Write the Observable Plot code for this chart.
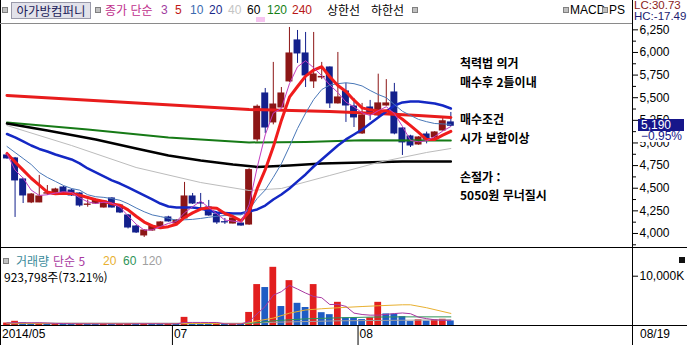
<!DOCTYPE html>
<html lang="ko">
<head>
<meta charset="utf-8">
<script src="https://cdn.jsdelivr.net/npm/d3@7"></script>
<script src="https://cdn.jsdelivr.net/npm/@observablehq/plot@0.6"></script>
<style>
html,body{margin:0;padding:0;background:#fff;}
#root{position:relative;width:687px;height:345px;overflow:hidden;background:#fff;font-family:"Liberation Sans",Arial,sans-serif;font-size:12px;color:#000;}
#root .a{position:absolute;white-space:nowrap;line-height:14px;}
#root .kr{font-family:"Noto Sans CJK KR","Liberation Sans",sans-serif;}
#root .sq{position:absolute;width:4px;height:4px;background:#c0c0c0;border:1px solid #808080;}
#root .ln{position:absolute;background:#000;}
#root svg{position:absolute;left:0;}
</style>
</head>
<body>
<div id="root"></div>
<script>
// ---------------- data ----------------
const stockName = "아가방컴퍼니";
const dates = ["2014-05-29","2014-05-30","2014-06-02","2014-06-03","2014-06-05","2014-06-09","2014-06-10","2014-06-11","2014-06-12","2014-06-13",
"2014-06-16","2014-06-17","2014-06-18","2014-06-19","2014-06-20","2014-06-23","2014-06-24","2014-06-25","2014-06-26","2014-06-27",
"2014-06-30","2014-07-01","2014-07-02","2014-07-03","2014-07-04","2014-07-07","2014-07-08","2014-07-09","2014-07-10","2014-07-11",
"2014-07-14","2014-07-15","2014-07-16","2014-07-17","2014-07-18","2014-07-21","2014-07-22","2014-07-23","2014-07-24","2014-07-25",
"2014-07-28","2014-07-29","2014-07-30","2014-07-31","2014-08-01","2014-08-04","2014-08-05","2014-08-06","2014-08-07","2014-08-08",
"2014-08-11","2014-08-12","2014-08-13","2014-08-14","2014-08-18","2014-08-19"];
const opens = [4862,4829,4597,4343,4343,4440,4431,4508,4475,4442,4316,4331,4287,4387,4309,4199,4077,3978,4033,4066,
4177,4110,4166,4409,4335,4287,4210,4125,4110,4110,4099,5039,5547,5227,5392,5680,6133,5989,5680,5724,
5834,5437,5569,5403,5105,5392,5304,5414,5558,5160,5072,4983,5094,5061,5138,5227];
const highs = [4880,4840,4610,4440,4641,4530,4500,4520,4490,4450,4370,4380,4365,4395,4320,4210,4090,4040,4090,4130,
4190,4150,4564,4442,4442,4365,4220,4166,4175,4115,4715,5420,5602,5890,5613,6276,6243,6221,6221,5890,
5840,6000,5658,5492,5437,5470,5760,5700,5658,5170,5085,5070,5120,5125,5270,5337];
const lows = [4820,4177,4331,4330,4340,4420,4425,4445,4410,4290,4290,4320,4280,4280,4220,4050,4000,3956,4025,4060,
4125,4105,4160,4320,4265,4190,4100,4100,4105,4080,4090,5010,5105,5200,5380,5670,5879,5613,5602,5700,
5381,5430,5227,5171,5095,5249,5290,5405,5090,4862,4950,4975,4990,5050,5130,5180];
const closes = [4829,4586,4420,4431,4409,4445,4486,4453,4420,4309,4320,4365,4354,4287,4232,4066,4011,4033,4077,4122,
4133,4144,4409,4331,4331,4199,4122,4122,4166,4088,4700,5400,5171,5425,5547,5989,5989,5746,5757,5730,
5437,5503,5414,5282,5304,5326,5437,5437,5105,5006,4972,5061,5039,5116,5240,5190];
const volumes = [500000,850000,550000,400000,450000,350000,400000,350000,300000,400000,350000,300000,350000,300000,350000,400000,350000,400000,350000,300000,
350000,300000,1650000,400000,350000,300000,350000,300000,350000,300000,2650000,8300000,7700000,11800000,3850000,9100000,4500000,3650000,8300000,2600000,
2200000,4700000,1550000,1500000,1200000,1550000,4700000,2350000,2300000,1800000,800000,1150000,880000,1150000,1261800,923798];

// price moving averages
const maPeriods = [3,5,10,20,40,60,120,240];
const ma3 = [4880,4700,4612,4479,4420,4428,4447,4461,4453,4394,4350,4331,4346,4335,4291,4195,4103,4037,4040,4077,
4111,4133,4229,4295,4357,4287,4217,4148,4137,4125,4318,4729,5090,5332,5381,5654,5842,5908,5831,5744,
5641,5557,5451,5400,5333,5304,5356,5400,5326,5183,5028,5013,5024,5072,5132,5182];
const ma5 = [4884,4790,4700,4610,4535,4458,4438,4445,4443,4423,4398,4373,4354,4327,4312,4261,4190,4126,4084,4062,
4075,4102,4177,4228,4270,4283,4278,4221,4188,4139,4240,4495,4705,4957,5249,5506,5624,5739,5806,5842,
5732,5635,5568,5473,5388,5366,5353,5357,5322,5262,5191,5116,5037,5039,5086,5129];
const ma10 = [4961,4895,4829,4762,4674,4619,4575,4530,4497,4479,4428,4406,4399,4385,4367,4329,4282,4240,4205,4187,
4168,4146,4151,4156,4166,4179,4190,4199,4208,4205,4261,4387,4480,4620,4770,4960,5160,5330,5480,5590,
5640,5655,5665,5655,5630,5580,5535,5500,5425,5350,5305,5260,5235,5215,5210,5205];
const ma20 = [5099,5061,5017,4972,4934,4906,4873,4845,4818,4774,4718,4674,4630,4586,4552,4508,4464,4420,4376,4331,
4298,4287,4287,4287,4276,4254,4232,4227,4221,4221,4243,4265,4309,4376,4431,4497,4575,4652,4740,4818,
4895,4972,5039,5094,5149,5215,5282,5348,5414,5448,5459,5459,5448,5436,5414,5381];
const ma40Day = [1,9,17,25,31,35,41,47,53,56];
const ma40 = [5193,4972,4729,4563,4475,4497,4641,4785,4895,4939];
const ma60Day = [1,6,12,17,21,25,29,32,36,40,45,50,56];
const ma60 = [5215,5138,5039,4939,4862,4807,4762,4735,4751,4774,4785,4796,4796];
const ma120Day = [1,11,21,31,38,45,56];
const ma120 = [5227,5149,5061,5006,5012,5030,5028];
const ma240Day = [1,16,31,41,47,52,56];
const ma240 = [5525,5448,5370,5348,5326,5304,5282];

// volume moving averages, thousands of shares
const volPeriods = [5,20,60,120];
const volMa5K = [500,550,550,550,550,500,420,390,370,360,350,340,340,330,330,340,350,370,370,360,
350,340,610,620,620,610,610,340,330,320,790,2380,3860,6150,6860,8150,7390,6580,5880,5630,
4250,4290,3870,2510,2230,2100,2100,2260,2420,2540,2390,1680,1390,1160,1050,1070];
const volMa20Day = [1,22,30,31,32,34,36,38,40,42,45,47,50,51,53,56];
const volMa20K = [420,400,400,520,920,1500,2500,3150,3400,3600,3850,4000,4200,4200,3600,2450];
const volMa60Day = [1,30,31,33,34,38,42,46,50,56];
const volMa60K = [380,380,420,750,950,1350,1550,1700,1750,1750];
const volMa120Day = [1,30,34,42,56];
const volMa120K = [500,450,650,950,1150];

const priceTicks = [4000,4250,4500,4750,5000,5250,5500,5750,6000,6250];
const priceMinorTicks = [3875,4125,4375,4625,4875,5125,5375,5625,5875,6125];
const volumeTicks = [0,10000000];
const headerIndicators = ["MACD","PS"];
const headerValues = [["LC",30.73],["HC",-17.49]];
const notes = ["척력법 의거","매수후 2틀이내","매수조건","시가 보합이상","손절가 :","5050원 무너질시"];

// ---------------- layout & style ----------------
const W = 687, AXIS_X = 632, STEP = 8.07, FIRST_X = 6.5;
const PRICE_TOP = 23, PRICE_H = 224, VOL_TOP = 247, VOL_H = 78, DATE_H = 20;
const UP = "#8c1616", DN = "#13208c", VUP = "#e21f1f", VDN = "#1f5cc4";
const maStyle = {3:["#c03cc0",1],5:["#f01c1c",3],10:["#4a78b8",1],20:["#1428c4",2.5],40:["#bcbcbc",1],60:["#000000",2.5],120:["#167a16",2],240:["#e81c1c",3]};
const headerColors = {3:"#a040a0",5:"#c01818",10:"#3a6ab0",20:"#1a2a8a",40:"#c4c4c4",60:"#000",120:"#148014",240:"#b81818"};
const volColors = {5:"#a838a0",20:"#e8b030",60:"#2e9458",120:"#a0a0a0"};

const root = document.getElementById("root");
function el(cls, style, text) {
  const e = document.createElement("div");
  e.className = cls;
  Object.assign(e.style, style);
  if (text != null) e.textContent = text;
  root.appendChild(e);
  return e;
}
const xDomain = [-FIRST_X / STEP, (AXIS_X - FIRST_X) / STEP];
const seq = arr => arr.map((v, i) => ({i, v}));
const sparse = (days, vals, k = 1) => days.map((d, j) => ({i: d - 1, v: vals[j] * k}));
const svgStyle = {fontFamily: "Liberation Sans, Arial, sans-serif", fontSize: "12px", color: "#000", background: "transparent", overflow: "visible"};

// ---------------- price panel ----------------
const candles = dates.map((d, i) => ({i, o: opens[i], h: highs[i], l: lows[i], c: closes[i], up: closes[i] >= opens[i]}));
const maSeries = {3: seq(ma3), 5: seq(ma5), 10: seq(ma10), 20: seq(ma20),
  40: sparse(ma40Day, ma40), 60: sparse(ma60Day, ma60), 120: sparse(ma120Day, ma120), 240: sparse(ma240Day, ma240)};
const drawOrder = [240,120,60,40,20,10,5,3];

const price = Plot.plot({
  width: W, height: PRICE_H,
  marginLeft: 0, marginRight: W - AXIS_X, marginTop: 0, marginBottom: 0,
  x: {type: "linear", domain: xDomain, axis: null, label: null},
  y: {type: "linear", domain: [3845, 6320], label: null},
  style: svgStyle,
  marks: [
    Plot.ruleX(candles, {x: "i", y1: "l", y2: "h", stroke: d => d.up ? UP : DN, strokeWidth: 1}),
    Plot.rect(candles, {x1: d => d.i - 0.43, x2: d => d.i + 0.43, y1: "o", y2: "c", fill: d => d.up ? UP : DN, insetTop: -0.5, insetBottom: -0.5}),
    ...drawOrder.map(p => Plot.line(maSeries[p], {x: "i", y: "v", stroke: maStyle[p][0], strokeWidth: maStyle[p][1], strokeLinejoin: "round"})),
    Plot.axisY({anchor: "right", ticks: priceMinorTicks, tickSize: 3, tickFormat: () => "", label: null}),
    Plot.axisY({anchor: "right", ticks: priceTicks, tickSize: 5, tickPadding: 2, tickFormat: d3.format(","), label: null})
  ]
});
price.style.top = PRICE_TOP + "px";
root.appendChild(price);

// ---------------- volume panel ----------------
const vols = volumes.map((v, i) => ({i, v, up: i === 0 ? true : v > volumes[i - 1]}));
const volSeries = {5: seq(volMa5K).map(d => ({i: d.i, v: d.v * 1000})), 20: sparse(volMa20Day, volMa20K, 1000),
  60: sparse(volMa60Day, volMa60K, 1000), 120: sparse(volMa120Day, volMa120K, 1000)};
// month boundaries; a month whose start is too close to the previous label is skipped
const monthTicks = [];
dates.forEach((d, i) => {
  const m = d.slice(5, 7);
  if (i === 0) monthTicks.push({pos: xDomain[0], label: d.slice(0, 4) + "/" + m});
  else if (m !== dates[i - 1].slice(5, 7)) {
    const pos = i - 0.5;
    if (pos - monthTicks[monthTicks.length - 1].pos >= 7) monthTicks.push({pos, label: m});
  }
});

const volume = Plot.plot({
  width: W, height: VOL_H + DATE_H,
  marginLeft: 0, marginRight: W - AXIS_X, marginTop: 0, marginBottom: DATE_H,
  x: {type: "linear", domain: xDomain, label: null},
  y: {type: "linear", domain: [0, 15820000], label: null},
  style: svgStyle,
  marks: [
    Plot.rect(vols, {x1: d => d.i - 0.42, x2: d => d.i + 0.42, y1: 0, y2: "v", fill: d => d.up ? VUP : VDN}),
    ...[120,60,20,5].map(p => Plot.line(volSeries[p], {x: "i", y: "v", stroke: volColors[p], strokeWidth: 1})),
    Plot.axisY({anchor: "right", ticks: volumeTicks, tickSize: 5, tickPadding: 2, tickFormat: d => d ? d3.format(",")(d / 1000) + "K" : "", label: null}),
    Plot.axisX({ticks: monthTicks.map(t => t.pos), tickSize: DATE_H, tickFormat: () => "", label: null})
  ]
});
volume.style.top = VOL_TOP + "px";
root.appendChild(volume);

// date labels placed with the volume panel's x scale
const xs = volume.scale("x");
monthTicks.forEach(t => el("a", {left: Math.max(2, xs.apply(t.pos) + 2) + "px", top: "327px"}, t.label));
const lastDate = dates[dates.length - 1];
el("a", {left: "640px", top: "327px"}, lastDate.slice(5, 7) + "/" + lastDate.slice(8, 10));

// ---------------- frame lines ----------------
el("ln", {left: "0px", top: "0px", width: "1px", height: "345px"});
el("ln", {left: "0px", top: PRICE_TOP + "px", width: AXIS_X + "px", height: "1px", background: "#8a8a8a"});
el("ln", {left: AXIS_X + "px", top: "0px", width: "1px", height: "345px"});
el("ln", {left: "0px", top: VOL_TOP + "px", width: W + "px", height: "1px"});
el("ln", {left: "0px", top: (VOL_TOP + VOL_H) + "px", width: W + "px", height: "1px"});
el("a", {left: "256px", top: "17px", width: "9px", height: "5px", background: "#f6c4f0"});

// ---------------- header ----------------
el("sq", {left: "2px", top: "7px"});
el("a kr", {left: "11px", top: "2px", width: "78px", height: "15px", lineHeight: "15px", background: "#e2e2ea", border: "1px solid #9a9aaa", color: "#1c1c5a", textAlign: "center", fontSize: "12.5px"}, stockName);
el("sq", {left: "95px", top: "7px"});
el("a kr", {left: "105px", top: "3px", color: "#c0308c"}, "종가 단순");
const hx = {3: 161, 5: 175, 10: 190, 20: 209, 40: 228, 60: 247, 120: 267, 240: 292};
maPeriods.forEach(p => el("a", {left: hx[p] + "px", top: "3px", color: headerColors[p]}, String(p)));
el("a kr", {left: "327px", top: "3px"}, "상한선");
el("a kr", {left: "371px", top: "3px"}, "하한선");
el("sq", {left: "412px", top: "7px"});
el("sq", {left: "563px", top: "7px"});
el("a", {left: "570px", top: "3px"}, headerIndicators[0]);
el("sq", {left: "602px", top: "7px"});
el("a", {left: "609px", top: "3px", width: "22px", overflow: "hidden"}, headerIndicators[1]);
el("a", {left: "634px", top: "0px", color: "#8a1c1c", background: "#fff", lineHeight: "11px", fontSize: "11.5px"}, headerValues[0][0] + ":" + headerValues[0][1].toFixed(2));
el("a", {left: "634px", top: "11px", color: "#1c1c70", background: "#fff", lineHeight: "11px", fontSize: "11.5px"}, headerValues[1][0] + ":" + headerValues[1][1].toFixed(2));

// ---------------- current price tag ----------------
const last = closes[closes.length - 1], prev = closes[closes.length - 2];
const yLast = PRICE_TOP + price.scale("y").apply(last);
el("a", {left: "638px", top: (yLast - 6) + "px", width: "46px", height: "12px", lineHeight: "12px", background: "#16168a", color: "#fff", paddingLeft: "3px", boxSizing: "border-box"}, d3.format(",")(last));
el("a", {left: "638px", top: (yLast + 6) + "px", width: "46px", height: "11px", lineHeight: "11px", background: "#fff", color: "#16168a", paddingLeft: "3px", boxSizing: "border-box"}, d3.format(".2f")((last / prev - 1) * 100) + "%");

// ---------------- notes ----------------
const noteY = [63, 82, 119, 138, 177, 195];
notes.forEach((t, k) => el("a kr", {left: "460px", top: (noteY[k] - 7) + "px", fontWeight: "bold"}, t));

// ---------------- volume legend ----------------
el("sq", {left: "3px", top: "258px"});
el("a kr", {left: "16px", top: "254px", color: "#3a8a9a"}, "거래량");
el("a kr", {left: "53px", top: "254px", color: volColors[5]}, "단순 " + volPeriods[0]);
const vx = {20: 103, 60: 123, 120: 142};
volPeriods.slice(1).forEach(p => el("a", {left: vx[p] + "px", top: "254px", color: volColors[p]}, String(p)));
const vLast = volumes[volumes.length - 1], vPrev = volumes[volumes.length - 2];
el("a kr", {left: "4px", top: "270px"}, d3.format(",")(vLast) + "주(" + d3.format(".2f")(vLast / vPrev * 100) + "%)");
el("a", {left: "679px", top: "257px", width: "6px", height: "6px", background: "#111"});
</script>
</body>
</html>
